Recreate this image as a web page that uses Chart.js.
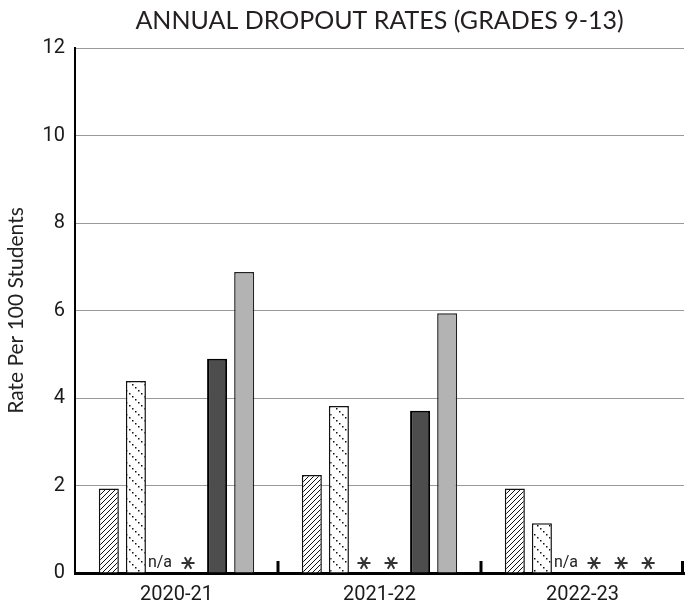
<!DOCTYPE html>
<html>
<head>
<meta charset="utf-8">
<script src="https://cdn.jsdelivr.net/npm/chart.js@4/dist/chart.umd.min.js"></script>
<style>
  html, body { margin: 0; padding: 0; background: #fff; }
  #wrap { width: 694px; height: 610px; }
</style>
</head>
<body>
<div id="wrap"><canvas id="dropoutChart"></canvas></div>
<script>
// school years
const years = ['2020-21', '2021-22', '2022-23'];

// rate per 100 students, one array per bar (null = not shown)
const hatchedRates = [1.93, 2.24, 1.93];
const dottedRates = [4.39, 3.82, 1.14];
const thirdRates = [null, null, null];
const fourthRates = [null, null, null];
const darkRates = [4.90, 3.71, null];
const grayRates = [6.88, 5.94, null];

// what is written at the base when a value is missing
const thirdNotes = ['n/a', '*', 'n/a'];
const fourthNotes = ['*', '*', '*'];
const darkNotes = [null, null, '*'];
const grayNotes = [null, null, '*'];

const yTicks = [0, 2, 4, 6, 8, 10, 12];
const chartTitle = 'ANNUAL DROPOUT RATES (GRADES 9-13)';

function makeHatch() {
    const c = document.createElement('canvas');
    c.width = 5; c.height = 5;
    const g = c.getContext('2d');
    g.fillStyle = '#fff';
    g.fillRect(0, 0, 5, 5);
    g.strokeStyle = '#111';
    g.lineWidth = 1;
    g.beginPath();
    g.moveTo(-1, 6); g.lineTo(6, -1);
    g.moveTo(-1, 1); g.lineTo(1, -1);
    g.moveTo(4, 6); g.lineTo(6, 4);
    g.stroke();
    return g.createPattern(c, 'repeat');
}

function makeDots() {
    const c = document.createElement('canvas');
    c.width = 12; c.height = 12;
    const g = c.getContext('2d');
    g.fillStyle = '#fff';
    g.fillRect(0, 0, 12, 12);
    g.fillStyle = '#111';
    for (let i = 0; i < 12; i += 3) {
        g.fillRect(i, i, 1.5, 1.5);
    }
    return g.createPattern(c, 'repeat');
}

function drawStar(ctx, x, y) {
    ctx.save();
    ctx.strokeStyle = '#333';
    ctx.lineWidth = 2;
    ctx.beginPath();
    for (let k = 0; k < 3; k++) {
        const a = k * Math.PI / 3;
        ctx.moveTo(x - 6.5 * Math.cos(a), y - 6.5 * Math.sin(a));
        ctx.lineTo(x + 6.5 * Math.cos(a), y + 6.5 * Math.sin(a));
    }
    ctx.stroke();
    ctx.restore();
}

// title centred over the plot, notes at the base of empty bars,
// small upward ticks between years
const extrasPlugin = {
    id: 'extras',
    afterDatasetsDraw(chart) {
        const ctx = chart.ctx;
        const x = chart.scales.x;
        const y = chart.scales.y;
        const area = chart.chartArea;

        ctx.save();
        ctx.fillStyle = '#231f20';
        ctx.font = '25px Lato, sans-serif';
        ctx.textAlign = 'center';
        ctx.textBaseline = 'middle';
        ctx.fillText(chartTitle, (area.left + area.right) / 2, 21);
        ctx.restore();

        chart.data.datasets.forEach((ds, di) => {
            if (!ds.notes) return;
            const meta = chart.getDatasetMeta(di);
            ds.notes.forEach((note, i) => {
                if (!note) return;
                const px = meta.data[i].x;
                const py = y.getPixelForValue(0) - 10;
                if (note === '*') {
                    drawStar(ctx, px - 2, py);
                } else {
                    ctx.save();
                    ctx.fillStyle = '#222';
                    ctx.font = '16px "Liberation Sans Narrow", Roboto, sans-serif';
                    ctx.textAlign = 'center';
                    ctx.textBaseline = 'middle';
                    ctx.fillText(note, px - 3, py);
                    ctx.restore();
                }
            });
        });

        ctx.save();
        ctx.strokeStyle = '#000';
        ctx.lineWidth = 3;
        const step = (x.right - x.left) / years.length;
        for (let i = 1; i <= years.length; i++) {
            const bx = Math.round(x.left + step * i) - (i === years.length ? 1.5 : 0);
            ctx.beginPath();
            ctx.moveTo(bx, y.bottom);
            ctx.lineTo(bx, y.bottom - 12);
            ctx.stroke();
        }
        ctx.restore();
    }
};

const hatch = makeHatch();
const dots = makeDots();

function series(label, data, notes, fill, border, width) {
    return {
        label: label,
        data: data,
        notes: notes,
        backgroundColor: fill,
        borderColor: border,
        borderWidth: width,
        borderSkipped: 'start'
    };
}

const ctx = document.getElementById('dropoutChart').getContext('2d');
new Chart(ctx, {
    type: 'bar',
    data: {
        labels: years,
        datasets: [
            series('A', hatchedRates, null, hatch, '#111', 1.5),
            series('B', dottedRates, null, dots, '#111', 1.5),
            series('C', thirdRates, thirdNotes, '#fff', '#111', 1.5),
            series('D', fourthRates, fourthNotes, '#fff', '#111', 1.5),
            series('E', darkRates, darkNotes, '#4d4d4d', '#000', 2),
            series('F', grayRates, grayNotes, '#b3b3b3', '#222', 1.5)
        ]
    },
    options: {
        responsive: true,
        maintainAspectRatio: false,
        animation: false,
        layout: { padding: { left: 0, right: 10, top: 48, bottom: 0 } },
        datasets: {
            bar: { categoryPercentage: 0.8, barPercentage: 0.74 }
        },
        plugins: {
            legend: { display: false },
            tooltip: { enabled: false },
            title: { display: false }
        },
        scales: {
            x: {
                grid: { display: false },
                border: { color: '#000', width: 3 },
                ticks: {
                    color: '#1a1a1a',
                    padding: 2,
                    font: { family: 'Roboto', size: 20 }
                },
                afterFit(scale) { scale.height = 37; }
            },
            y: {
                min: 0,
                max: 12,
                afterBuildTicks(scale) {
                    scale.ticks = yTicks.map(v => ({ value: v }));
                },
                grid: { color: '#9a9a9a', lineWidth: 1, drawTicks: false },
                border: { color: '#000', width: 2 },
                ticks: {
                    color: '#1a1a1a',
                    padding: 10,
                    font: { family: 'Roboto', size: 20 }
                },
                title: {
                    display: true,
                    text: 'Rate Per 100 Students',
                    color: '#222',
                    font: { family: 'Lato', size: 21 },
                    padding: { top: 4, bottom: 0 }
                },
                afterFit(scale) { scale.width = 75; }
            }
        }
    },
    plugins: [extrasPlugin]
});
</script>
</body>
</html>
